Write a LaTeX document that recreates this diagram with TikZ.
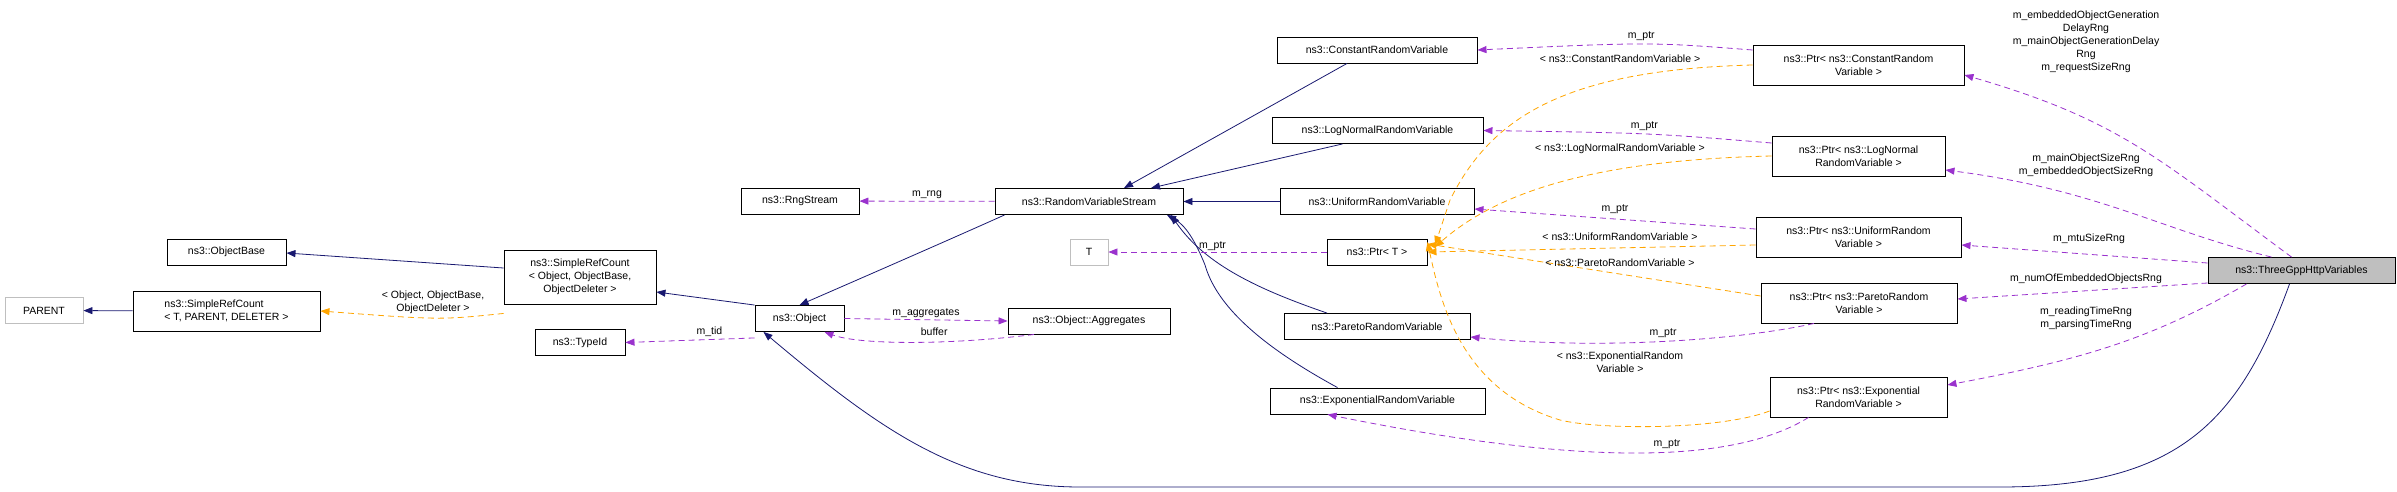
\documentclass[tikz,border=0pt]{standalone}
\usepackage{fontspec}
\setmainfont{Liberation Sans}
\usetikzlibrary{arrows.meta}
\definecolor{inhc}{HTML}{191970}
\definecolor{usec}{HTML}{9A32CD}
\definecolor{tplc}{HTML}{FFA500}
\definecolor{grayb}{HTML}{BFBFBF}
\begin{document}
\begin{tikzpicture}[x=1pt,y=-1pt,
  every node/.style={font=\fontsize{10.5}{13}\selectfont, inner sep=0pt},
  box/.style={draw=black, line width=0.9pt, fill=white, align=center, minimum height=26pt},
  gbox/.style={box, draw=grayb},
  lbl/.style={align=center, fill=none},
  inh/.style={-{Triangle[length=9pt,width=7pt,fill=inhc]}, draw=inhc, line width=0.8pt},
  use/.style={-{Triangle[length=9pt,width=7pt,fill=usec]}, draw=usec, dash pattern=on 6pt off 4pt, line width=0.8pt},
  tpl/.style={-{Triangle[length=9pt,width=7pt,fill=tplc]}, draw=tplc, dash pattern=on 6pt off 4pt, line width=0.8pt}]
\useasboundingbox (0,0) rectangle (2397,492);
% nodes
\node[gbox, minimum width=78pt] (parent) at (44,310.5) {PARENT};
\node[box, minimum width=187pt, minimum height=40pt, align=left] (src1) at (226.5,311) {ns3::SimpleRefCount\\< T, PARENT, DELETER >};
\node[box, minimum width=119pt] (objbase) at (226.5,252) {ns3::ObjectBase};
\node[box, minimum width=152pt, minimum height=54pt] (src2) at (580,277) {ns3::SimpleRefCount\\< Object, ObjectBase,\\ObjectDeleter >};
\node[box, minimum width=90pt] (typeid) at (580,342.5) {ns3::TypeId};
\node[box, minimum width=118pt] (rng) at (800,201) {ns3::RngStream};
\node[box, minimum width=89pt] (object) at (799.5,318.5) {ns3::Object};
\node[box, minimum width=188pt] (rvs) at (1089,201.5) {ns3::RandomVariableStream};
\node[gbox, minimum width=38pt] (T) at (1089,252) {T};
\node[box, minimum width=162pt] (agg) at (1089,321) {ns3::Object::Aggregates};
\node[box, minimum width=200pt] (const) at (1377,50) {ns3::ConstantRandomVariable};
\node[box, minimum width=211pt] (lognorm) at (1377.5,130.5) {ns3::LogNormalRandomVariable};
\node[box, minimum width=194pt] (uniform) at (1377,201.5) {ns3::UniformRandomVariable};
\node[box, minimum width=100pt] (ptrT) at (1377,252) {ns3::Ptr< T >};
\node[box, minimum width=186pt] (pareto) at (1377,326.5) {ns3::ParetoRandomVariable};
\node[box, minimum width=215pt] (expo) at (1377.5,401) {ns3::ExponentialRandomVariable};
\node[box, minimum width=211pt, minimum height=40pt] (pconst) at (1858.5,65) {ns3::Ptr< ns3::ConstantRandom\\Variable >};
\node[box, minimum width=173pt, minimum height=40pt] (plog) at (1858.5,156) {ns3::Ptr< ns3::LogNormal\\RandomVariable >};
\node[box, minimum width=205pt, minimum height=40pt] (puni) at (1858.5,237) {ns3::Ptr< ns3::UniformRandom\\Variable >};
\node[box, minimum width=196pt, minimum height=40pt] (ppar) at (1859,303) {ns3::Ptr< ns3::ParetoRandom\\Variable >};
\node[box, minimum width=177pt, minimum height=40pt] (pexp) at (1858.5,397) {ns3::Ptr< ns3::Exponential\\RandomVariable >};
\node[box, fill=grayb, minimum width=187pt] (three) at (2301.5,270.5) {ns3::ThreeGppHttpVariables};
% inheritance
\draw[inh] (src1) -- (parent);
\draw[inh] (src2.west |- 0,268) -- (objbase.east |- 0,253);
\draw[inh] (object.north west) -- (src2.east |- 0,292);
\draw[inh] ([xshift=10pt]rvs.south west) .. controls (960,235) and (880,270) .. (object.north);
\draw[inh] ([xshift=-30pt]const.south) -- ([xshift=35pt]rvs.north);
\draw[inh] ([xshift=-35pt]lognorm.south) -- ([xshift=62pt]rvs.north);
\draw[inh] (uniform) -- (rvs);
\draw[inh] ([xshift=-50pt]pareto.north) .. controls (1260,290) and (1205,265) .. ([xshift=82pt]rvs.south);
\draw[inh] ([xshift=-40pt]expo.north) .. controls (1250,340) and (1215,300) .. (1205,265) .. controls (1195,240) and (1185,225) .. ([xshift=78pt]rvs.south);
\draw[inh] ([xshift=-12pt]three.south) .. controls (2240,420) and (2180,487) .. (2000,487) -- (1080,487) .. controls (960,487) and (880,430) .. ([xshift=-36pt]object.south);
% usage
\draw[use] (rvs) -- (rng) node[lbl, midway, above=2pt] {m\_rng};
\draw[use] ([yshift=-6pt]object.south west) -- (typeid.east) node[lbl, pos=0.35, above=3pt] {m\_tid};
\draw[use] (object.east) -- (agg.west) node[lbl, midway, above=2pt] {m\_aggregates};
\draw[use] ([xshift=-55pt]agg.south) .. controls (950,345) and (860,345) .. ([xshift=-20pt]object.south east) node[lbl, pos=0.4, above=6pt] {buffer};
\draw[use] (ptrT) -- (T) node[lbl, midway, above=1pt, xshift=-5pt] {m\_ptr};
\draw[use] (pconst.west |- 0,50) .. controls (1650,42) .. (const.east) node[lbl, midway, above=3pt] {m\_ptr};
\draw[use] (plog.west |- 0,143) .. controls (1650,133) .. (lognorm.east) node[lbl, midway, above=3pt] {m\_ptr};
\draw[use] (puni.west |- 0,229) -- (uniform.east |- 0,209) node[lbl, midway, above=5pt] {m\_ptr};
\draw[use] ([xshift=-45pt]ppar.south) .. controls (1740,340) and (1600,350) .. (pareto.east |- 0,337) node[lbl, midway, above=3pt] {m\_ptr};
\draw[use] ([xshift=-50pt]pexp.south) .. controls (1740,460) and (1600,470) .. ([xshift=-50pt]expo.south) node[lbl, pos=0.45, above=3pt] {m\_ptr};
% template
\draw[tpl] ([yshift=-9pt]src2.south west) .. controls (440,320) .. (src1.east) node[lbl, midway, above=4pt] {< Object, ObjectBase,\\ObjectDeleter >};
\draw[tpl] (pconst.west) .. controls (1560,70) and (1490,120) .. (1450,200) -- (1435,245);
\draw[tpl] (plog.west) .. controls (1600,160) and (1500,190) .. (1435,247);
\draw[tpl] (puni.west |- 0,245) -- (ptrT.east);
\draw[tpl] (ppar.west |- 0,296) -- ([yshift=8pt]ptrT.east);
\draw[tpl] (pexp.west |- 0,411) .. controls (1720,430) and (1600,430) .. (1560,420) .. controls (1460,390) and (1440,300) .. ([yshift=10pt]ptrT.east);
\node[lbl] at (1620,59) {< ns3::ConstantRandomVariable >};
\node[lbl] at (1620,149) {< ns3::LogNormalRandomVariable >};
\node[lbl] at (1620,237) {< ns3::UniformRandomVariable >};
\node[lbl] at (1620,263) {< ns3::ParetoRandomVariable >};
\node[lbl] at (1620,362) {< ns3::ExponentialRandom\\Variable >};
% ThreeGpp members
\draw[use] ([xshift=-10pt]three.north) .. controls (2160,160) and (2120,120) .. (pconst.east |- 0,75) ;
\draw[use] ([xshift=-30pt]three.north) .. controls (2160,230) and (2100,190) .. (plog.east |- 0,170);
\draw[use] (three.west |- 0,263) -- (puni.east |- 0,245);
\draw[use] (three.west |- 0,283) -- (ppar.east |- 0,299);
\draw[use] ([xshift=-55pt]three.south) .. controls (2150,340) and (2080,360) .. (pexp.east |- 0,385);
\node[lbl] at (2086,42) {m\_embeddedObjectGeneration\\DelayRng\\m\_mainObjectGenerationDelay\\Rng\\m\_requestSizeRng};
\node[lbl] at (2086,165) {m\_mainObjectSizeRng\\m\_embeddedObjectSizeRng};
\node[lbl] at (2089,239) {m\_mtuSizeRng};
\node[lbl] at (2086,279) {m\_numOfEmbeddedObjectsRng};
\node[lbl] at (2086,318) {m\_readingTimeRng\\m\_parsingTimeRng};
\end{tikzpicture}
\end{document}
